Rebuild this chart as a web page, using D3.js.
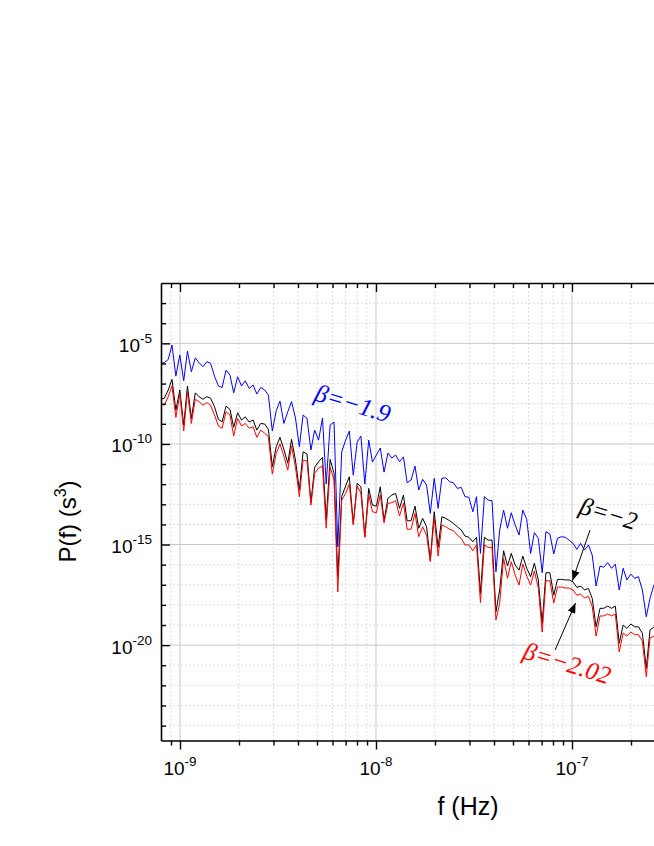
<!DOCTYPE html>
<html>
<head>
<meta charset="utf-8">
<script src="https://cdn.jsdelivr.net/npm/d3@7"></script>
<style>
  html, body { margin: 0; padding: 0; background: #fff; overflow: hidden; }
  svg { display: block; font-family: Arial, "Liberation Sans", sans-serif; }
</style>
</head>
<body>
<svg id="chart"></svg>
<script>
// log10 of frequency (Hz), shared by the three spectra
const freqExp = [
  -9.097,-9.080,-9.060,-9.041,-9.021,-9.001,-8.981,-8.962,-8.942,-8.922,
  -8.903,-8.883,-8.863,-8.844,-8.824,-8.804,-8.785,-8.765,-8.745,-8.726,
  -8.706,-8.686,-8.667,-8.647,-8.627,-8.608,-8.588,-8.568,-8.549,-8.529,
  -8.509,-8.490,-8.470,-8.450,-8.431,-8.411,-8.391,-8.372,-8.352,-8.332,
  -8.313,-8.293,-8.273,-8.254,-8.234,-8.214,-8.195,-8.175,-8.155,-8.136,
  -8.116,-8.096,-8.077,-8.057,-8.037,-8.018,-7.998,-7.978,-7.959,-7.939,
  -7.919,-7.900,-7.880,-7.860,-7.841,-7.821,-7.801,-7.782,-7.762,-7.742,
  -7.723,-7.703,-7.683,-7.664,-7.644,-7.624,-7.605,-7.585,-7.565,-7.546,
  -7.526,-7.506,-7.487,-7.467,-7.447,-7.428,-7.408,-7.388,-7.369,-7.349,
  -7.329,-7.310,-7.290,-7.270,-7.251,-7.231,-7.211,-7.192,-7.172,-7.152,
  -7.133,-7.113,-7.093,-7.074,-7.054,-7.034,-7.015,-6.995,-6.975,-6.956,
  -6.936,-6.916,-6.897,-6.877,-6.857,-6.838,-6.818,-6.798,-6.779,-6.759,
  -6.739,-6.720,-6.700,-6.680,-6.661,-6.641,-6.621,-6.602,-6.582,-6.562,
  -6.543
];

// log10 of P(f) in s^3
const pBeta19 = [
  -5.98,-5.96,-5.80,-5.08,-6.63,-5.58,-6.86,-5.38,-6.41,-5.72,
  -5.96,-6.16,-5.91,-5.99,-6.63,-7.12,-7.19,-6.33,-6.58,-7.46,
  -6.66,-7.12,-6.86,-7.24,-7.07,-7.52,-7.19,-7.32,-7.57,-9.36,
  -8.35,-7.87,-8.98,-8.40,-7.90,-8.71,-10.14,-8.56,-8.73,-10.30,
  -9.31,-9.81,-8.71,-11.99,-9.06,-8.91,-15.11,-10.40,-9.81,-9.36,
  -11.55,-9.91,-9.61,-11.99,-9.81,-10.90,-10.55,-10.20,-11.40,-10.45,
  -10.70,-10.55,-10.88,-10.64,-11.93,-11.79,-11.10,-12.29,-11.76,-12.04,
  -13.45,-11.71,-13.20,-11.71,-11.68,-11.88,-11.93,-12.21,-12.16,-12.62,
  -12.65,-13.37,-12.62,-15.44,-12.62,-12.79,-12.82,-16.35,-14.28,-13.29,
  -14.19,-13.42,-14.03,-14.53,-13.29,-13.75,-15.44,-14.41,-14.69,-16.40,
  -14.36,-14.48,-15.47,-14.69,-14.61,-14.64,-14.78,-14.94,-15.24,-14.94,
  -15.27,-15.02,-15.52,-17.06,-16.07,-16.13,-15.90,-16.18,-15.97,-17.26,
  -16.18,-16.76,-16.47,-16.68,-16.60,-17.26,-18.59,-17.67,-17.01,-16.86,
  -17.16
];

const pBeta20 = [
  -7.77,-7.73,-7.32,-6.79,-8.32,-7.32,-9.06,-7.12,-8.73,-7.46,
  -7.65,-7.78,-7.65,-7.73,-8.15,-8.78,-8.90,-8.12,-8.28,-9.17,
  -8.45,-8.81,-8.65,-8.91,-8.81,-9.31,-8.98,-9.01,-9.27,-11.13,
  -10.14,-9.67,-10.27,-10.96,-9.77,-10.80,-12.29,-10.39,-10.50,-12.92,
  -11.16,-10.88,-10.67,-13.75,-10.77,-11.46,-16.60,-12.62,-12.09,-11.63,
  -13.95,-11.96,-12.13,-14.61,-12.21,-13.04,-13.09,-12.13,-13.82,-12.70,
  -12.54,-12.46,-13.20,-12.54,-13.82,-13.82,-13.09,-14.19,-13.70,-14.12,
  -15.77,-13.37,-15.14,-13.62,-13.70,-13.82,-13.95,-14.12,-14.28,-14.58,
  -14.64,-14.86,-14.64,-17.43,-14.64,-14.78,-14.78,-18.34,-17.26,-15.31,
  -16.07,-15.44,-16.02,-16.27,-15.57,-16.18,-16.60,-15.93,-16.76,-18.92,
  -16.40,-16.40,-17.51,-16.73,-16.73,-16.76,-16.76,-16.85,-17.13,-17.06,
  -17.26,-17.18,-17.67,-19.09,-18.17,-18.17,-18.06,-18.17,-18.06,-19.91,
  -19.00,-19.17,-18.95,-19.09,-19.09,-19.41,-21.15,-19.25,-19.10,-19.00,
  -19.15
];

const pBeta202 = [
  -8.02,-8.07,-7.65,-7.12,-8.68,-7.52,-9.36,-7.41,-8.98,-7.78,
  -7.90,-8.07,-7.95,-8.07,-8.56,-9.11,-9.22,-8.40,-8.56,-9.61,
  -8.73,-9.11,-8.98,-9.22,-9.15,-9.67,-9.31,-9.47,-9.64,-11.50,
  -10.47,-10.00,-10.60,-11.30,-10.10,-11.15,-12.62,-10.80,-10.85,-13.04,
  -11.46,-11.20,-11.10,-14.19,-11.16,-11.79,-17.36,-12.79,-12.46,-11.99,
  -14.03,-12.09,-12.44,-14.64,-12.54,-13.37,-13.42,-12.54,-13.92,-12.95,
  -12.92,-12.82,-13.58,-12.95,-14.24,-14.24,-13.45,-14.61,-14.12,-14.53,
  -15.85,-13.70,-15.57,-14.03,-14.12,-14.24,-14.31,-14.53,-14.69,-15.02,
  -15.02,-15.31,-15.02,-17.89,-15.02,-15.14,-15.14,-18.75,-17.92,-15.69,
  -16.68,-15.85,-16.52,-17.01,-15.97,-16.57,-17.01,-16.32,-17.16,-19.35,
  -16.80,-16.80,-17.91,-17.11,-17.11,-17.16,-17.16,-17.26,-17.52,-17.46,
  -17.66,-17.57,-18.07,-19.55,-18.55,-18.55,-18.45,-18.55,-18.45,-20.34,
  -19.40,-19.55,-19.35,-19.48,-19.48,-19.80,-21.57,-19.65,-19.55,-19.40,
  -19.55
];

// axis extents and labelled decades
const xDomain = [8e-10, 1e-6];
const yDomainExp = [-24.74, -2];
const xLabelExps = [-9, -8, -7];
const yLabelExps = [-5, -10, -15, -20];

// annotations, in data units (log10 f, log10 P)
const betaLabels = [
  { text: "\u03B2=\u22121.9", color: "#0000ff", f: -8.32, p: -7.82 },
  { text: "\u03B2=\u22122", color: "#000000", f: -6.969, p: -13.43 },
  { text: "\u03B2=\u22122.02", color: "#ff0000", f: -7.257, p: -20.64 }
];
const arrows = [
  { from: [-6.908, -14.28], to: [-6.9975, -16.79] },
  { from: [-7.086, -20.24], to: [-6.982, -17.91] }
];

const W = 654, H = 846;
const plot = { left: 161, top: 283, right: 768, bottom: 740.5 };

const svg = d3.select("#chart").attr("width", W).attr("height", H);

const x = d3.scaleLog().domain(xDomain).range([plot.left, plot.right]);
const y = d3.scaleLog()
  .domain([Math.pow(10, yDomainExp[0]), Math.pow(10, yDomainExp[1])])
  .range([plot.bottom, plot.top]);

// tick values
const xTicks = [];
for (let e = -10; e <= -6; e++) {
  for (let k = 1; k <= 9; k++) {
    const v = k * Math.pow(10, e);
    if (v > xDomain[0] * 1.01 && v <= xDomain[1] * 1.001) xTicks.push(v);
  }
}
const isDecade = (v) => Math.abs(Math.log10(v) - Math.round(Math.log10(v))) < 1e-6;
const yTickExps = d3.range(-3, -25, -1);

const defs = svg.append("defs");
defs.append("clipPath").attr("id", "plot-clip")
  .append("rect")
  .attr("x", plot.left).attr("y", plot.top)
  .attr("width", plot.right - plot.left).attr("height", plot.bottom - plot.top);
defs.append("marker")
  .attr("id", "arrowhead")
  .attr("markerUnits", "userSpaceOnUse")
  .attr("markerWidth", 10).attr("markerHeight", 8)
  .attr("refX", 10).attr("refY", 4)
  .attr("orient", "auto")
  .append("path")
  .attr("d", "M0,0 L10,4 L0,8 Z")
  .attr("fill", "#000");

// grid
const grid = svg.append("g").attr("class", "grid");
grid.selectAll("line.v")
  .data(xTicks)
  .join("line")
  .attr("class", "v")
  .attr("x1", (d) => x(d)).attr("x2", (d) => x(d))
  .attr("y1", plot.top).attr("y2", plot.bottom)
  .attr("stroke", (d) => (isDecade(d) ? "#c8c8c8" : "#d2d2d2"))
  .attr("stroke-width", 1)
  .attr("stroke-dasharray", (d) => (isDecade(d) ? null : "1.5,2.5"));
grid.selectAll("line.h")
  .data(yTickExps)
  .join("line")
  .attr("class", "h")
  .attr("x1", plot.left).attr("x2", plot.right)
  .attr("y1", (e) => y(Math.pow(10, e))).attr("y2", (e) => y(Math.pow(10, e)))
  .attr("stroke", (e) => (e % 5 === 0 ? "#c8c8c8" : "#d2d2d2"))
  .attr("stroke-width", 1)
  .attr("stroke-dasharray", (e) => (e % 5 === 0 ? null : "1.5,2.5"));

// spectra
const line = d3.line()
  .x((d, i) => x(Math.pow(10, freqExp[i])))
  .y((d) => y(Math.pow(10, d)));

const series = [
  { values: pBeta20, color: "#000000" },
  { values: pBeta202, color: "#ff0000" },
  { values: pBeta19, color: "#0000ff" }
];
svg.append("g")
  .attr("clip-path", "url(#plot-clip)")
  .selectAll("path")
  .data(series)
  .join("path")
  .attr("fill", "none")
  .attr("stroke", (d) => d.color)
  .attr("stroke-width", 1)
  .attr("stroke-linejoin", "miter")
  .attr("d", (d) => line(d.values));

// axes
const styleAxis = (g) => {
  g.select(".domain").attr("stroke", "#000").attr("stroke-width", 1.6);
  g.selectAll(".tick line").attr("stroke", "#000").attr("stroke-width", 1.4);
  g.selectAll(".tick text").remove();
};

svg.append("g")
  .attr("transform", `translate(0,${plot.bottom})`)
  .call(d3.axisBottom(x).tickValues(xTicks).tickSize(5).tickSizeOuter(0).tickFormat(""))
  .call(styleAxis)
  .call((g) => g.selectAll(".tick line").attr("y2", (d) => (isDecade(d) ? 9 : 5)));

svg.append("g")
  .attr("transform", `translate(0,${plot.top})`)
  .call(d3.axisTop(x).tickValues(xTicks).tickSize(-5).tickSizeOuter(0).tickFormat(""))
  .call(styleAxis)
  .call((g) => g.selectAll(".tick line").attr("y2", (d) => (isDecade(d) ? 9 : 5)));

svg.append("g")
  .attr("transform", `translate(${plot.left},0)`)
  .call(d3.axisLeft(y).tickValues(yTickExps.map((e) => Math.pow(10, e)))
    .tickSize(-5).tickSizeOuter(0).tickFormat(""))
  .call(styleAxis)
  .call((g) => g.selectAll(".tick line")
    .attr("x2", (d) => (Math.round(Math.log10(d)) % 5 === 0 ? 9 : 5)));

// tick labels 10^n
function powerText(sel, exp) {
  sel.append("tspan").text("10");
  sel.append("tspan").attr("dy", -9).attr("font-size", 13.5).text(exp);
}

svg.append("g")
  .selectAll("text")
  .data(xLabelExps)
  .join("text")
  .attr("x", (e) => x(Math.pow(10, e)))
  .attr("y", 775)
  .attr("text-anchor", "middle")
  .attr("font-size", 19)
  .attr("fill", "#000")
  .each(function (e) { powerText(d3.select(this), e); });

svg.append("g")
  .selectAll("text")
  .data(yLabelExps)
  .join("text")
  .attr("x", 152)
  .attr("y", (e) => y(Math.pow(10, e)) + 8.4)
  .attr("text-anchor", "end")
  .attr("font-size", 19)
  .attr("fill", "#000")
  .each(function (e) { powerText(d3.select(this), e); });

// axis titles
svg.append("text")
  .attr("x", 468)
  .attr("y", 815)
  .attr("text-anchor", "middle")
  .attr("font-size", 25)
  .text("f (Hz)");

const yTitle = svg.append("text")
  .attr("transform", "translate(76,521.5) rotate(-90)")
  .attr("text-anchor", "middle")
  .attr("font-size", 24);
yTitle.append("tspan").text("P(f) (s");
yTitle.append("tspan").attr("dy", -10).attr("font-size", 16).text("3");
yTitle.append("tspan").attr("dy", 10).text(")");

// beta annotations
svg.append("g")
  .selectAll("text")
  .data(betaLabels)
  .join("text")
  .attr("transform", (d) =>
    `translate(${x(Math.pow(10, d.f))},${y(Math.pow(10, d.p))}) rotate(17)`)
  .attr("font-family", "'Liberation Serif', 'Times New Roman', serif")
  .attr("font-style", "italic")
  .attr("font-size", 25)
  .attr("fill", (d) => d.color)
  .text((d) => d.text);

svg.append("g")
  .selectAll("line")
  .data(arrows)
  .join("line")
  .attr("x1", (d) => x(Math.pow(10, d.from[0])))
  .attr("y1", (d) => y(Math.pow(10, d.from[1])))
  .attr("x2", (d) => x(Math.pow(10, d.to[0])))
  .attr("y2", (d) => y(Math.pow(10, d.to[1])))
  .attr("stroke", "#000")
  .attr("stroke-width", 1)
  .attr("marker-end", "url(#arrowhead)");
</script>
</body>
</html>
